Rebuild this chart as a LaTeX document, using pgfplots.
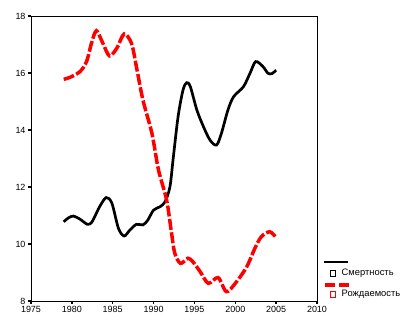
\documentclass[border=0pt]{standalone}
\usepackage{fontspec}
\setmainfont{Liberation Sans}
\usepackage{pgfplots}
\pgfplotsset{compat=1.18}
\begin{document}
\begin{tikzpicture}
\useasboundingbox (-31bp,-25bp) rectangle (377bp,301bp);
\begin{axis}[
  at={(0bp,0bp)}, anchor=south west,
  scale only axis, width=286bp, height=285bp,
  xmin=1975, xmax=2010, ymin=8, ymax=18,
  xtick={1975,1980,...,2010}, ytick={8,10,...,18},
  tick pos=left, tick align=outside, major tick length=3bp,
  axis line style={line width=0.8bp},
  every tick/.style={line width=1.5bp, black},
  /pgf/number format/assume math mode=true,
  /pgf/number format/1000 sep={},
  tick label style={font=\fontsize{9}{10}\selectfont},
  xticklabel style={yshift=1bp},
  yticklabel style={xshift=1bp},
  clip=false,
]
\addplot[black, line width=2.7bp, smooth, tension=0.5] coordinates {
(1979.0,10.78) (1979.6,10.92) (1980.2,10.98) (1981.0,10.87) (1981.9,10.69)
(1982.4,10.75) (1982.8,10.96) (1983.4,11.31) (1984.2,11.63) (1984.9,11.43)
(1985.7,10.55) (1986.4,10.28) (1987.1,10.49) (1987.9,10.69) (1988.7,10.67)
(1989.3,10.84) (1990.0,11.19) (1990.8,11.31) (1991.4,11.48) (1992.0,12.0)
(1992.4,13.0) (1993.0,14.47) (1993.6,15.40) (1994.05,15.66) (1994.5,15.52)
(1995.3,14.70) (1996.1,14.12) (1996.9,13.65) (1997.7,13.47) (1998.3,13.88)
(1999.1,14.70) (1999.8,15.17) (2001.0,15.52) (2001.8,15.99) (2002.5,16.40)
(2003.4,16.22) (2004.0,15.99) (2004.5,15.98) (2005.0,16.1)
};
\addplot[red, line width=3.5bp, smooth, tension=0.5, dash pattern=on 11bp off 2.5bp] coordinates {
(1979.0,15.78) (1979.8,15.85) (1981.0,16.05) (1981.8,16.4) (1982.4,17.04)
(1983.0,17.48) (1983.8,17.04) (1984.6,16.6) (1985.5,16.87) (1986.4,17.37)
(1987.3,17.04) (1987.9,16.22) (1988.7,15.05) (1989.8,13.88) (1990.6,12.6)
(1991.6,11.54) (1992.2,10.38) (1992.6,9.67) (1993.3,9.32) (1994.2,9.50)
(1994.8,9.38) (1995.7,9.03) (1996.7,8.62) (1997.9,8.82) (1998.9,8.33)
(2000.0,8.62) (2001.4,9.20) (2002.4,9.85) (2003.2,10.26) (2004.2,10.43)
(2004.9,10.26)
};
\end{axis}
\draw[black, line width=2.7bp] (293bp,39bp) -- (317bp,39bp);
\draw[black, line width=0.7bp] (299bp,25bp) rectangle (304.5bp,30.5bp);
\node[anchor=west, inner sep=0pt, font=\fontsize{9.4}{10}\selectfont] at (310.5bp,27.7bp) {Смертность};
\draw[red, line width=3.5bp, dash pattern=on 10bp off 4bp] (294bp,16bp) -- (318bp,16bp);
\draw[red, line width=0.7bp] (299bp,4bp) rectangle (304.5bp,9.5bp);
\node[anchor=west, inner sep=0pt, font=\fontsize{9.4}{10}\selectfont] at (310.5bp,6.7bp) {Рождаемость};
\end{tikzpicture}
\end{document}
